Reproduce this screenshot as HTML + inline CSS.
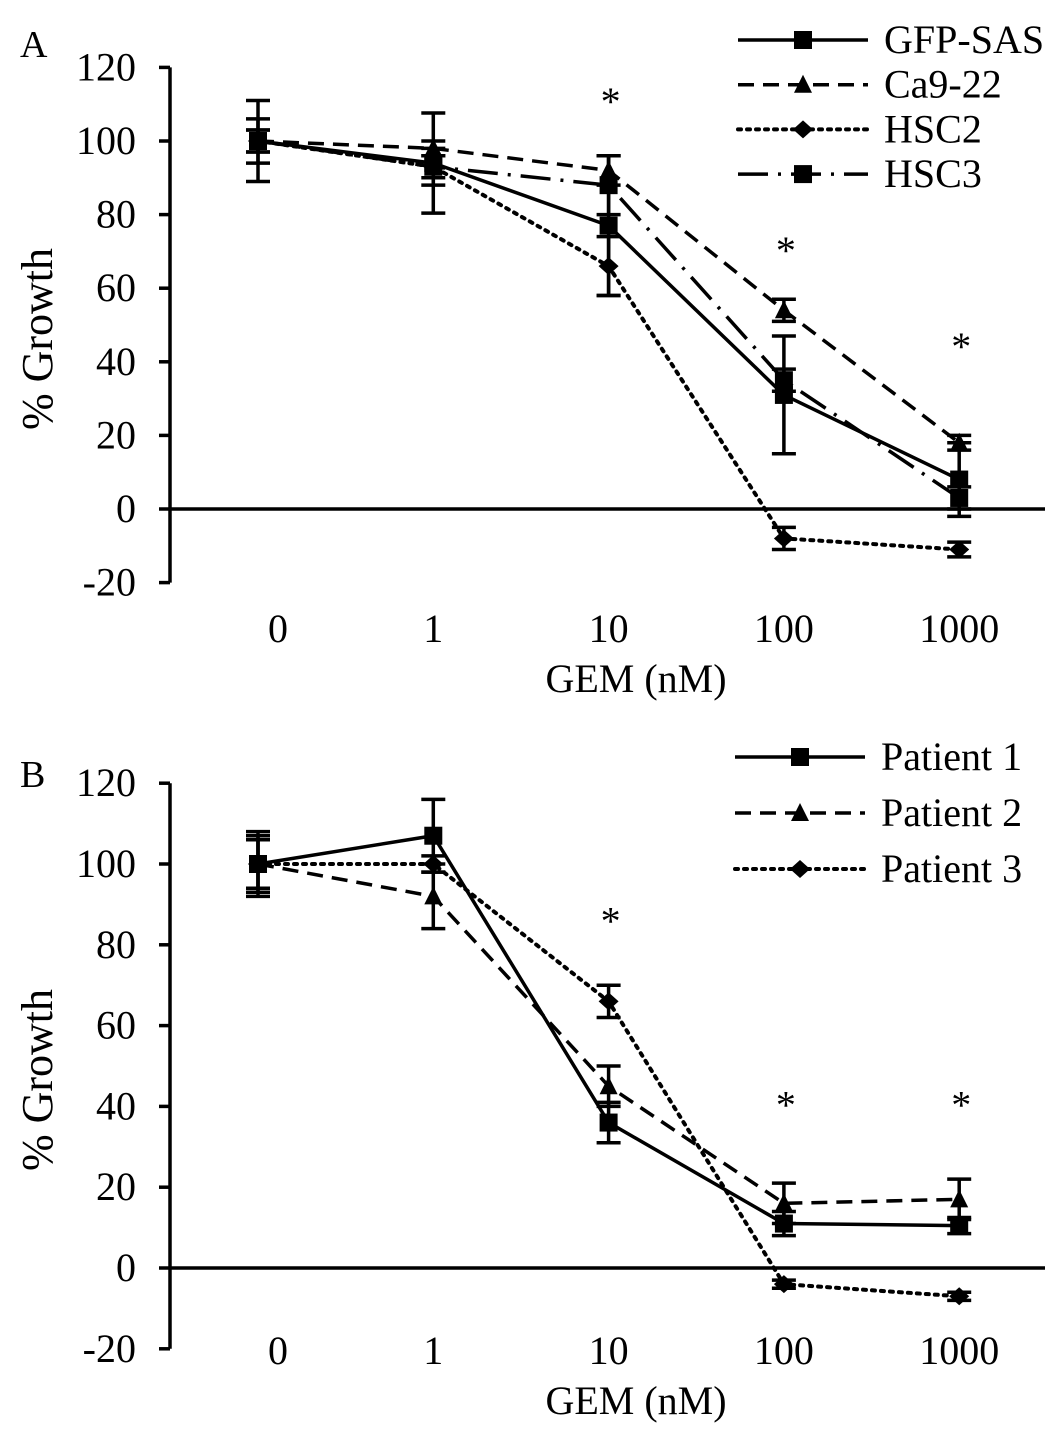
<!DOCTYPE html>
<html><head><meta charset="utf-8"><style>
html,body{margin:0;padding:0;background:#fff}
svg{display:block;font-family:"Liberation Serif",serif}
</style></head><body>
<svg id="c" width="1063" height="1441" viewBox="0 0 1063 1441"></svg>
<script>
const categories=["0","1","10","100","1000"];
const yTicks=[-20,0,20,40,60,80,100,120];
const aNames=["GFP-SAS","Ca9-22","HSC2","HSC3"];
const aGFP=[100,94,77,31,8];
const aGFPerr=[11,13.6,19,16,10];
const aCa=[100,98,92,54,18];
const aCaErr=[3,2,4,3,2];
const aHSC2=[100,93,66,-8,-11];
const aHSC2err=[3,3,8,3,2];
const aHSC3=[100,93,88,35,3];
const aHSC3err=[6,5,8,3,3];
const aStars=[null,null,113,72.5,46.5];
const bNames=["Patient 1","Patient 2","Patient 3"];
const bP1=[100,107,36,11,10.5];
const bP1err=[8,9,5,3,2];
const bP2=[100,92,45,16,17];
const bP2err=[7,8,5,5,5];
const bP3=[100,100,66,-4,-7];
const bP3err=[6,2,4,1,1];
const bStars=[null,null,88,42.5,42.5];

const NS="http://www.w3.org/2000/svg";
const svg=document.getElementById('c');
function mk(tag,attrs,parent,text){const e=document.createElementNS(NS,tag);for(const k in attrs)e.setAttribute(k,attrs[k]);if(text!==undefined)e.textContent=text;(parent||svg).appendChild(e);return e;}
const styles=[{dash:"",m:"sq"},{dash:"16,9",m:"tri"},{dash:"3,6",m:"dia"},{dash:"30,10,3,10",m:"sq"}];
function marker(g,m,x,y){
  if(m==="sq")return mk('rect',{x:x-9,y:y-9,width:18,height:18,fill:"#000"},g);
  if(m==="tri")return mk('polygon',{points:`${x},${y-10} ${x+9},${y+8} ${x-9},${y+8}`,fill:"#000"},g);
  return mk('polygon',{points:`${x},${y-9} ${x+10},${y} ${x},${y+9} ${x-10},${y}`,fill:"#000"},g);
}
function panel(o){
  const xS=i=>258+i*175.3;
  const yS=v=>o.y0-v*o.k;
  const g=mk('g',{});
  
  
  const lab=mk('text',{x:20,y:o.labelY,"font-size":38},g,o.id.toUpperCase());
  
  const ya=mk('line',{x1:170,x2:170,y1:yS(120),y2:yS(-20),stroke:"#000","stroke-width":3.5},g);
  
  yTicks.forEach(t=>{
    const tk=mk('line',{x1:159,x2:170,y1:yS(t),y2:yS(t),stroke:"#000","stroke-width":3.5},g);
    
    const tl=mk('text',{x:136,y:yS(t)+13,"font-size":40,"text-anchor":"end"},g,String(t));
    
  });
  const xa=mk('line',{x1:170,x2:1045,y1:yS(0),y2:yS(0),stroke:"#000","stroke-width":3.5},g);
  
  categories.forEach((c,i)=>{
    const tl=mk('text',{x:xS(i)+(i===0?20:0),y:o.xLabY,"font-size":40,"text-anchor":"middle"},g,c);
    
  });
  const xt=mk('text',{x:636,y:o.xLabY+50,"font-size":40,"text-anchor":"middle"},g,"GEM (nM)");
  
  const yt=mk('text',{x:0,y:0,"font-size":44,"text-anchor":"middle",transform:`translate(52,${yS(50)+14}) rotate(-90)`},g,"% Growth");
  
  o.series.forEach((s,si)=>{
    const st=styles[s.style];
    const sg=mk('g',{},g);
    
    
    s.err.forEach((e,i)=>{
      const x=xS(i),y1=yS(s.v[i]+e),y2=yS(s.v[i]-e);
      const eb=mk('path',{d:`M${x},${y1}V${y2}M${x-12},${y1}H${x+12}M${x-12},${y2}H${x+12}`,stroke:"#000","stroke-width":3.5,fill:"none"},sg);
      
    });
    const ln=mk('polyline',{points:s.v.map((v,i)=>xS(i)+","+yS(v)).join(" "),fill:"none",stroke:"#000","stroke-width":st.m==="dia"?4:3.5,"stroke-dasharray":st.dash,"stroke-linecap":st.m==="dia"?"round":"butt"},sg);
    
    s.v.forEach((v,i)=>{const mm=marker(sg,st.m,xS(i),yS(v));});
    const ly=o.legY+si*o.legStep;
    const lg=mk('g',{},g);
    
    mk('line',{x1:o.legX,x2:o.legX+130,y1:ly,y2:ly,stroke:"#000","stroke-width":st.m==="dia"?4:3.5,"stroke-dasharray":st.dash,"stroke-linecap":st.m==="dia"?"round":"butt"},lg);
    marker(lg,st.m,o.legX+65,ly);
    mk('text',{x:o.legX+146,y:ly+13,"font-size":40},lg,o.names[si]);
  });
  o.stars.forEach((s,i)=>{
    if(s===null)return;
    const t=mk('text',{x:xS(i)+2,y:yS(s)+22,"font-size":40,"text-anchor":"middle"},g,"*");
    
  });
}
panel({id:"a",y0:509,k:3.68,labelY:57,xLabY:642,legX:738,legY:40,legStep:44.7,names:aNames,stars:aStars,
  series:[{v:aGFP,err:aGFPerr,style:0},{v:aCa,err:aCaErr,style:1},{v:aHSC2,err:aHSC2err,style:2},{v:aHSC3,err:aHSC3err,style:3}]});
panel({id:"b",y0:1268,k:4.04,labelY:787,xLabY:1364,legX:735,legY:757,legStep:56,names:bNames,stars:bStars,
  series:[{v:bP1,err:bP1err,style:0},{v:bP2,err:bP2err,style:1},{v:bP3,err:bP3err,style:2}]});
</script>
</body></html>
